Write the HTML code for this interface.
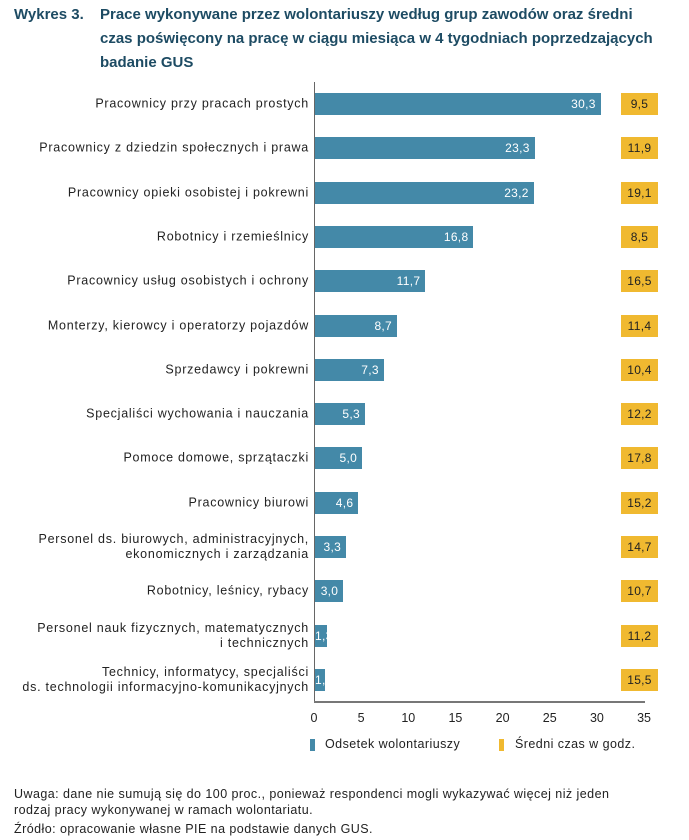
<!DOCTYPE html>
<html><head><meta charset="utf-8"><style>
body{margin:0;width:689px;height:840px;background:#fff;font-family:"Liberation Sans",sans-serif;position:relative;overflow:hidden;color:#222}
.t{position:absolute;font-weight:bold;color:#1d4b63;font-size:15px;line-height:24px;font-family:"Liberation Sans Narrow","Liberation Sans",sans-serif}
.lab{position:absolute;right:380px;text-align:right;font-size:12.5px;letter-spacing:0.75px;line-height:15px;color:#222;transform:translateY(-50%)}
.bar{position:absolute;left:315px;height:22px;background:#4489a8;color:#fff;font-size:12px;letter-spacing:0.3px;text-align:right;line-height:22px;box-sizing:border-box;padding-right:5px;white-space:nowrap}
.y{position:absolute;left:621px;width:37px;height:22px;background:#f0b930;font-size:12px;letter-spacing:0.3px;line-height:22px;text-align:center;color:#222}
.tick{position:absolute;top:711px;font-size:12.5px;transform:translateX(-50%)}
.n{position:absolute;left:14px;font-size:12.5px;letter-spacing:0.45px;color:#222}
</style></head><body>
<div class="t" style="left:14px;top:3px">Wykres 3.</div>
<div class="t" style="left:100px;top:3px;width:590px">Prace wykonywane przez wolontariuszy według grup zawodów oraz średni<br>czas poświęcony na pracę w ciągu miesiąca w 4 tygodniach poprzedzających<br>badanie GUS</div>
<div style="position:absolute;left:314px;top:82px;width:1px;height:620px;background:#666"></div>
<div style="position:absolute;left:314px;top:701px;width:331px;height:2px;background:#777"></div>
<div id="rows"></div>
<script>
var d=[["Pracownicy przy pracach prostych",30.3,9.5],["Pracownicy z dziedzin społecznych i prawa",23.3,11.9],["Pracownicy opieki osobistej i pokrewni",23.2,19.1],["Robotnicy i rzemieślnicy",16.8,8.5],["Pracownicy usług osobistych i ochrony",11.7,16.5],["Monterzy, kierowcy i operatorzy pojazdów",8.7,11.4],["Sprzedawcy i pokrewni",7.3,10.4],["Specjaliści wychowania i nauczania",5.3,12.2],["Pomoce domowe, sprzątaczki",5.0,17.8],["Pracownicy biurowi",4.6,15.2],["Personel ds. biurowych, administracyjnych,<br>ekonomicznych i zarządzania",3.3,14.7],["Robotnicy, leśnicy, rybacy",3.0,10.7],["Personel nauk fizycznych, matematycznych<br>i technicznych",1.3,11.2],["Technicy, informatycy, specjaliści<br>ds. technologii informacyjno-komunikacyjnych",1.1,15.5]];
var h="";
d.forEach(function(r,i){var c=104+i*44.3;var f=function(v){return v.toFixed(1).replace(".",",")};
var w=r[1]*9.43;var small=w<20;
h+='<div class="lab" style="top:'+c+'px">'+r[0]+'</div>';
h+='<div class="bar" style="top:'+(c-11)+'px;width:'+w+'px;'+(small?'padding-right:0;text-align:left;overflow:visible':'')+'">'+f(r[1])+'</div>';
h+='<div class="y" style="top:'+(c-11)+'px">'+f(r[2])+'</div>';});
for(var k=0;k<=35;k+=5)h+='<div class="tick" style="left:'+(314+k*9.43)+'px">'+k+'</div>';
document.getElementById("rows").innerHTML=h;
</script>
<div style="position:absolute;left:310px;top:739px;width:5px;height:12px;background:#4489a8"></div>
<div style="position:absolute;left:325px;top:737px;font-size:12.5px;letter-spacing:0.45px">Odsetek wolontariuszy</div>
<div style="position:absolute;left:499px;top:739px;width:5px;height:12px;background:#f0b930"></div>
<div style="position:absolute;left:515px;top:737px;font-size:12.5px;letter-spacing:0.45px">Średni czas w godz.</div>
<div class="n" style="top:786px;line-height:16px">Uwaga: dane nie sumują się do 100 proc., ponieważ respondenci mogli wykazywać więcej niż jeden<br>rodzaj pracy wykonywanej w ramach wolontariatu.</div>
<div class="n" style="top:822px">Źródło: opracowanie własne PIE na podstawie danych GUS.</div>
</body></html>
